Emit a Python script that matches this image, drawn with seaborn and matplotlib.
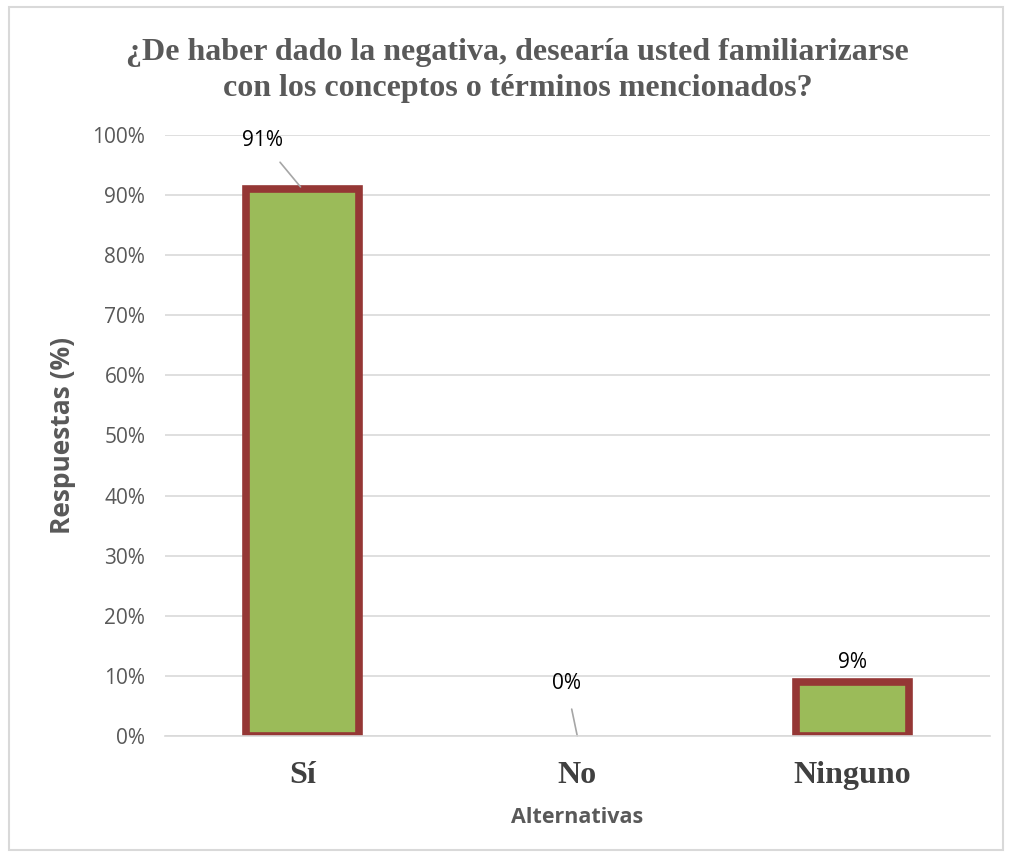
import matplotlib
matplotlib.use("Agg")
import matplotlib.pyplot as plt
import seaborn as sns
import pandas as pd
from matplotlib.patches import Rectangle

# data
categories = ["Sí", "No", "Ninguno"]
values = [0.91, 0.00, 0.09]
labels = ["91%", "0%", "9%"]
yticks = [0.0, 0.1, 0.2, 0.3, 0.4, 0.5, 0.6, 0.7, 0.8, 0.9, 1.0]

df = pd.DataFrame({"Alternativas": categories, "Respuestas": values})

sns.set_theme(style="white")
plt.rcParams["font.family"] = ["Open Sans", "DejaVu Sans"]

GRAY = "#595959"
fig = plt.figure(figsize=(10.11, 8.58), dpi=100)
ax = fig.add_axes([0.163, 0.1422, 0.816, 0.7005])

# chart border
fig.patches.append(Rectangle((0.009, 0.009), 0.983, 0.983, transform=fig.transFigure,
                             fill=False, edgecolor="#d9d9d9", linewidth=1.5))

sns.barplot(data=df, x="Alternativas", y="Respuestas", ax=ax, width=0.41,
            color="#9BBB59", saturation=1, edgecolor="#953735", linewidth=5.5,
            zorder=3)
# empty bar: no outline
for patch, v in zip(ax.patches, values):
    if v == 0:
        patch.set_linewidth(0)

ax.set_ylim(0, 1)
ax.set_xlim(-0.5, 2.5)
ax.set_yticks(yticks)
ax.set_yticklabels([f"{int(round(t * 100))}%" for t in yticks], fontsize=15, color=GRAY)
ax.yaxis.grid(True, color="#d9d9d9", linewidth=1.2, zorder=0)
ax.set_axisbelow(True)
for s in ["top", "right", "left"]:
    ax.spines[s].set_visible(False)
ax.spines["bottom"].set_color("#d9d9d9")
ax.spines["bottom"].set_linewidth(1.2)
ax.spines["bottom"].set_zorder(4)
ax.tick_params(axis="y", length=0, pad=14)
ax.tick_params(axis="x", length=0, pad=18)
ax.set_xticks(range(len(categories)))
ax.set_xticklabels(categories, fontsize=23, fontweight="bold",
                   family="Liberation Serif", color="#404040")

ax.set_xlabel("Alternativas", fontsize=15.5, fontweight="bold", color=GRAY, labelpad=12)
ax.set_ylabel("Respuestas (%)", fontsize=19, fontweight="bold", color=GRAY, labelpad=12)

# data labels
ax.annotate(labels[0], xy=(0, values[0]), xytext=(-0.145, 0.99),
            ha="center", va="center", fontsize=15, color="black",
            arrowprops=dict(arrowstyle="-", color="#a6a6a6", lw=1.2,
                            shrinkA=7, shrinkB=2))
ax.annotate(labels[1], xy=(1, values[1]), xytext=(0.96, 0.088),
            ha="center", va="center", fontsize=15, color="black",
            arrowprops=dict(arrowstyle="-", color="#a6a6a6", lw=1.2,
                            shrinkA=9, shrinkB=0))
ax.text(2, values[2] + 0.033, labels[2], ha="center", va="center",
        fontsize=15, color="black")

fig.text(0.512, 0.918, "¿De haber dado la negativa, desearía usted familiarizarse\n"
         "con los conceptos o términos mencionados?",
         ha="center", va="center", fontsize=23, fontweight="bold",
         family="Liberation Serif", color=GRAY, linespacing=1.3)

fig.savefig("out.png", dpi=100)
